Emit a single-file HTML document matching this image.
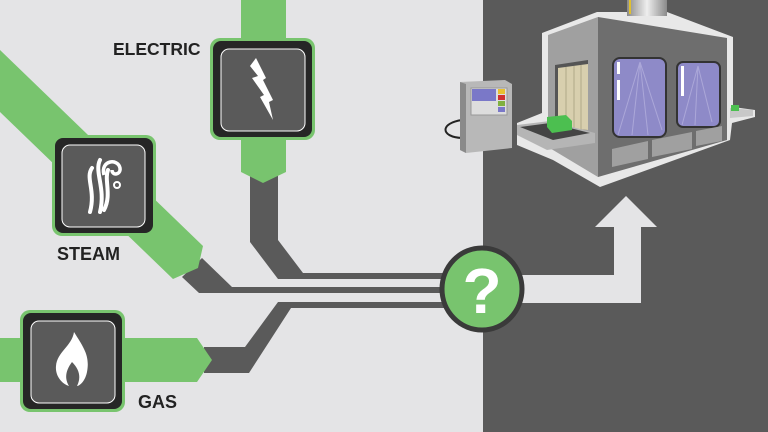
<!DOCTYPE html>
<html><head><meta charset="utf-8"><style>
html,body{margin:0;padding:0;width:768px;height:432px;overflow:hidden;background:#e4e4e6}
svg{display:block}
text{font-family:"Liberation Sans",sans-serif;font-weight:bold;fill:#222}
</style></head><body>
<svg width="768" height="432" viewBox="0 0 768 432" xmlns="http://www.w3.org/2000/svg">
<defs>
<linearGradient id="ch" x1="0" x2="1"><stop offset="0" stop-color="#8a8a8a"/><stop offset=".5" stop-color="#eeeeee"/><stop offset="1" stop-color="#8a8a8a"/></linearGradient>
</defs>
<rect width="768" height="432" fill="#e4e4e6"/>
<rect x="483" y="0" width="285" height="432" fill="#5a5a5a"/>
<polygon points="500,275 614,275 614,227 595,227 626,196 657,227 641,227 641,303 500,303" fill="#e4e4e6"/>
<polygon points="250,175 278,175 278,240 303,273 450,273 450,279 278,279 250,242" fill="#5a5a5a"/>
<polygon points="182,277 202,258 232,287 450,287 450,293 199,293" fill="#5a5a5a"/>
<polygon points="204,347 245,347 278,302 450,302 450,308 291,308 249,373 204,373" fill="#5a5a5a"/>
<polygon points="241,0 286,0 286,172 263,183 241,172" fill="#78c46e"/>
<polygon points="0,50 203,246 198,268 173,279 0,112" fill="#78c46e"/>
<polygon points="0,338 197,338 212,360 197,382 0,382" fill="#78c46e"/>
<g>
<rect x="210" y="38" width="105" height="102" rx="10" fill="#78c46e"/>
<rect x="213" y="41" width="99" height="96" rx="8" fill="#262626"/>
<rect x="221" y="49" width="84" height="82" rx="8" fill="#5a5a5a" stroke="#fff" stroke-width="1"/>
<polygon points="256,58 266,78 263,80 273,100 269,102 273,120 260,97 264,95 252,78 258,76 250,66" fill="#fff"/>
</g>
<g>
<rect x="52" y="135" width="104" height="101" rx="10" fill="#78c46e"/>
<rect x="55" y="138" width="98" height="95" rx="8" fill="#262626"/>
<rect x="62" y="145" width="83" height="82" rx="8" fill="#5a5a5a" stroke="#fff" stroke-width="1"/>
<path d="M92,168 C85,178 96,190 90,212 M100,160 C94,172 106,188 100,212 M108,170 C104,180 112,195 104,210" stroke="#fff" stroke-width="4" fill="none" stroke-linecap="round"/>
<path d="M104,175 C100,160 118,158 120,168 C121,175 112,176 112,170" stroke="#fff" stroke-width="3.5" fill="none"/>
<circle cx="117" cy="185" r="3" stroke="#fff" stroke-width="2" fill="none"/>
</g>
<g>
<rect x="20" y="310" width="105" height="102" rx="10" fill="#78c46e"/>
<rect x="23" y="313" width="99" height="96" rx="8" fill="#262626"/>
<rect x="31" y="321" width="84" height="82" rx="8" fill="#5a5a5a" stroke="#fff" stroke-width="1"/>
<path d="M74,332 C84,348 90,356 87,372 C85,382 79,386 77,386 C81,378 80,370 72,362 C66,370 64,378 69,386 C62,384 55,376 56,366 C57,352 72,346 74,332 Z" fill="#fff"/>
</g>
<text x="113" y="55" font-size="17.5">ELECTRIC</text>
<text x="57" y="260" font-size="18">STEAM</text>
<text x="138" y="408" font-size="18">GAS</text>
<ellipse cx="482" cy="289" rx="40" ry="41" fill="#78c46e" stroke="#3a3a3a" stroke-width="5"/>
<text x="482" y="313" font-size="64" text-anchor="middle" style="fill:#fff">?</text>
<polygon points="542,33 597,12 627,12 667,12 733,37 733,107 755,110 755,117 732,123 730,140 600,187 553,160 517,145 517,123 542,113" fill="#e8e8e8"/>
<rect x="627" y="0" width="40" height="16" fill="url(#ch)"/>
<rect x="629" y="0" width="2" height="14" fill="#e0c030"/>
<polygon points="548,35 598,17 598,177 548,147" fill="#a0a0a0"/>
<polygon points="598,17 727,38 727,140 598,177" fill="#6e6e6e"/>
<polygon points="555,65 588,60 588,130 555,127" fill="#555"/>
<polygon points="558,68 588,64 588,130 558,127" fill="#d8cfae"/>
<path d="M566,67 V128 M574,66 V129 M581,65 V130" stroke="#b0a888" stroke-width="1"/>
<rect x="613" y="58" width="53" height="79" rx="7" fill="#8e8ac8" stroke="#333" stroke-width="2"/>
<rect x="677" y="62" width="43" height="65" rx="6" fill="#8e8ac8" stroke="#333" stroke-width="2"/>
<path d="M640,62 L618,135 M640,62 L632,135 M640,62 L648,135 M640,62 L662,130 M698,66 L682,125 M698,66 L695,125 M698,66 L712,122" stroke="#b8b4e0" stroke-width="1" opacity=".7"/>
<rect x="617" y="62" width="3" height="12" fill="#fff"/><rect x="617" y="80" width="3" height="20" fill="#fff"/>
<rect x="681" y="66" width="3" height="30" fill="#fff"/>
<polygon points="612,149 648,141 648,159 612,167" fill="#a0a0a0"/>
<polygon points="652,140 692,132 692,149 652,157" fill="#a0a0a0"/>
<polygon points="696,131 722,126 722,141 696,146" fill="#a0a0a0"/>
<polygon points="517,125 550,121 595,133 595,143 547,150 517,135" fill="#b5b5b5"/>
<polygon points="520,127 550,123 590,133 553,140" fill="#444"/>
<polygon points="547,117 566,115 572,121 572,130 552,133 547,127" fill="#4cbf50"/>
<polygon points="730,108 753,110 753,116 730,118" fill="#c8c8c8"/>
<rect x="731" y="105" width="8" height="6" fill="#4cbf50"/>
<path d="M462,120 C440,123 440,137 462,138" stroke="#222" stroke-width="2" fill="none"/>
<polygon points="460,82 505,80 512,84 512,148 466,153 460,150" fill="#b8b8b8"/>
<polygon points="460,82 466,84 466,153 460,150" fill="#8a8a8a"/>
<rect x="471" y="88" width="36" height="27" fill="#ddd" stroke="#999"/>
<rect x="472" y="89" width="24" height="12" fill="#7a78c8"/>
<rect x="498" y="89" width="7" height="5" fill="#e8c030"/>
<rect x="498" y="95" width="7" height="5" fill="#d03030"/>
<rect x="498" y="101" width="7" height="5" fill="#80b040"/>
<rect x="498" y="107" width="7" height="5" fill="#7a78c8"/>
</svg>
</body></html>
